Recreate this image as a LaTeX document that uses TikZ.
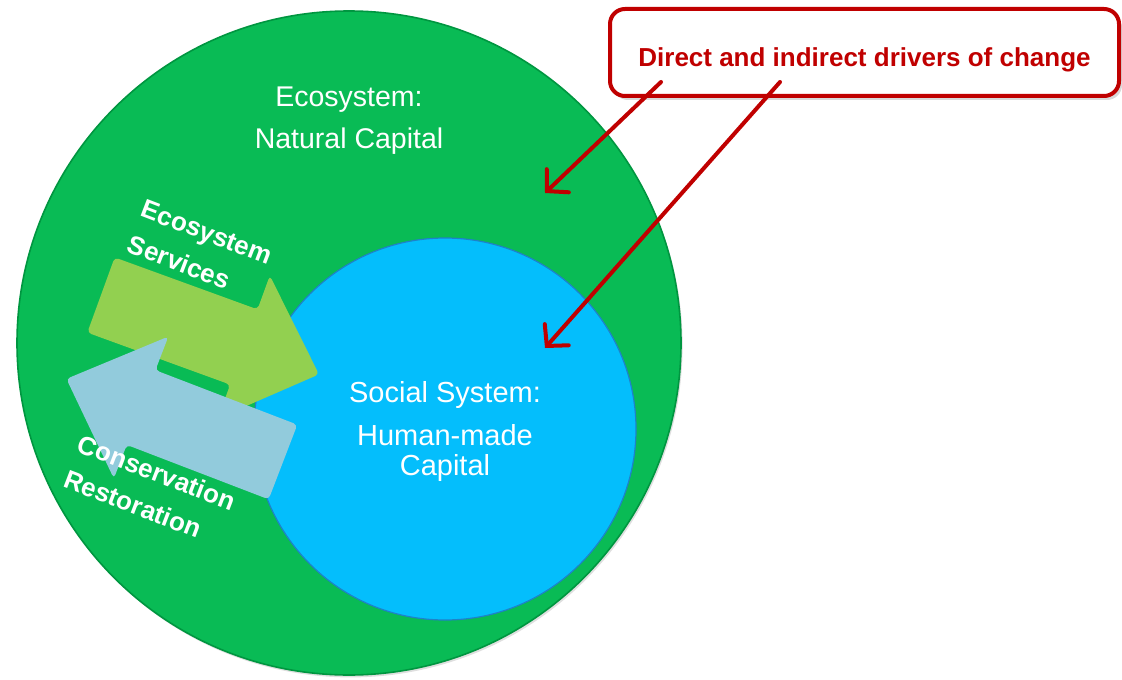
\documentclass[tikz,border=0pt]{standalone}
\usepackage{fontspec}
\setmainfont{Liberation Sans}
\usetikzlibrary{arrows.meta,shadows}

\definecolor{natgreen}{RGB}{9,187,85}
\definecolor{natrim}{RGB}{0,150,64}
\definecolor{socblue}{RGB}{4,190,252}
\definecolor{socrim}{RGB}{30,130,200}
\definecolor{esgreen}{RGB}{146,208,80}
\definecolor{crblue}{RGB}{146,203,220}
\definecolor{drvred}{RGB}{192,0,0}

\tikzset{
    blockarrow/.pic={
        \fill[#1, rounded corners=2pt] (0,-40) -- (152,-40) -- (152,-76) -- (232,0)
            -- (152,76) -- (152,40) -- (0,40) -- cycle;
    },
    circlelabel/.style={text=white, align=center},
    armlabel/.style={text=white, align=left, rotate=-21,
        font=\bfseries\fontsize{13}{19}\selectfont},
    driver/.style={drvred, line width=2pt, line cap=round,
        -{Straight Barb[length=7.5pt, width=16pt, line cap=round]}},
}

\begin{document}
\begin{tikzpicture}[x=0.5pt, y=-0.5pt]
    \useasboundingbox (0,0) rectangle (1122,679);

    % Natural capital and social system
    \node (eco) [circle, inner sep=0pt, minimum size=332pt, fill=natgreen,
        draw=natrim, line width=0.8pt,
        drop shadow={shadow xshift=0.8pt, shadow yshift=-1.2pt, opacity=0.25}]
        at (349,343) {};
    \node (soc) [circle, inner sep=0pt, minimum size=191pt, fill=socblue,
        draw=socrim, line width=0.6pt] at (445,429) {};

    \node (ecotext) [circlelabel, font=\fontsize{14.25}{21}\selectfont] at (349,121)
        {Ecosystem:\\Natural Capital};
    \node (soctext) [circlelabel, font=\fontsize{14.5}{15}\selectfont] at (445,431)
        {Social System:\\[6.5pt]Human-made\\Capital};

    % Flows between the two systems
    \pic[rotate=-20] at (101,295) {blockarrow=esgreen};
    \pic[rotate=159] at (283,462) {blockarrow=crblue};

    \node (services) [armlabel] at (200,250) {Ecosystem\\Services};
    \node (restore) [armlabel] at (150,490) {Conservation\\Restoration};

    % Drivers callout
    \node (drivers) [draw=drvred, line width=2pt, rounded corners=7.5pt, fill=white,
        minimum width=254.5pt, minimum height=43.5pt, text=drvred,
        text height=16.5pt, text depth=2.7pt,
        font=\bfseries\fontsize{13}{15}\selectfont,
        drop shadow={shadow xshift=1.5pt, shadow yshift=-2pt, opacity=0.3}]
        at (864.5,52.5) {Direct and indirect drivers of change};

    \coordinate (drvA) at (661,82);
    \coordinate (drvB) at (780,82);
    \coordinate (natural) at (545,193);
    \coordinate (social) at (545,348);

    \foreach \s/\t in {drvA/natural, drvB/social}
        \draw[driver] (\s) -- (\t);
\end{tikzpicture}
\end{document}
